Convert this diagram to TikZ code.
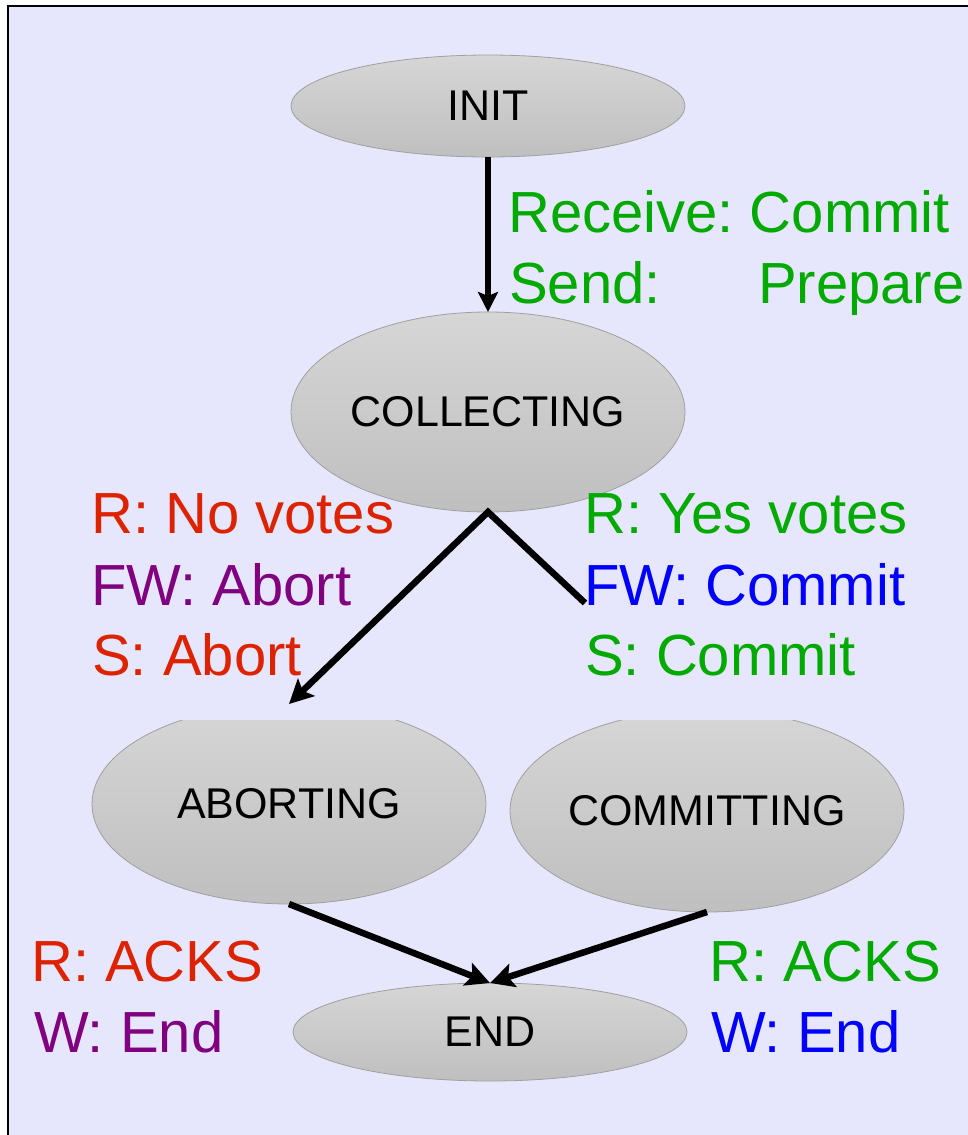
\documentclass[tikz,border=0pt]{standalone}
\usepackage{fontspec}
\setmainfont{Liberation Sans}
\usetikzlibrary{shapes.geometric,arrows.meta}
\definecolor{bg}{HTML}{E6E6FC}
\definecolor{lred}{HTML}{DD2200}
\definecolor{lgreen}{HTML}{00AA00}
\definecolor{lpurple}{HTML}{800080}
\definecolor{lblue}{HTML}{0000FF}
\definecolor{ebord}{HTML}{A0A0A0}
\definecolor{etop}{HTML}{D6D6D6}
\definecolor{ebot}{HTML}{BFBFBF}
\frenchspacing
\begin{document}
\begin{tikzpicture}[x=1pt,y=-1pt,
  state/.style={ellipse,draw=ebord,line width=0.8pt,top color=etop,bottom color=ebot,
    inner sep=0pt,outer sep=0pt,minimum width=394pt,font=\fontsize{43}{43}\selectfont},
  lab/.style={anchor=base west,inner sep=0pt,font=\fontsize{58}{58}\selectfont\frenchspacing},
  conn/.style={line width=6.5pt,-{Stealth[length=24pt,width=24pt,inset=5pt]}}]
\useasboundingbox (0,0) rectangle (968,1135);
\clip (0,0) rectangle (968,1135);
\fill[white] (0,0) rectangle (968,1135);
\draw[fill=bg,line width=1.5pt] (8,6) rectangle (990,1160);

\node[state,minimum height=102pt] (init) at (488,106) {INIT};
\node[state,minimum height=200pt] (coll) at (488,412) {COLLECTING};
\begin{scope}
  \clip (0,720) rectangle (968,1135);
  \node[state,minimum height=200pt] (abort) at (289,804) {ABORTING};
  \node[state,minimum height=202pt] (commit) at (707,811) {COMMITTING};
\end{scope}
\node[state,minimum height=98pt] (end) at (490,1032) {END};

\coordinate (cright) at (585,603);
\draw[line width=5.5pt,-{Stealth[length=20pt,width=20pt,inset=4pt]}] (init.south) -- (coll.north);
\draw[line width=6.5pt,{Stealth[length=24pt,width=24pt,inset=5pt]}-,miter limit=10] (abort.north) -- (coll.south) -- (cright);
\draw[conn] (abort.south) -- (end.north);
\draw[conn] (commit.south) -- (end.north);

\node[lab,text=lgreen] (rc) at (508,232) {Receive: Commit};
\node[lab,text=lgreen] (sp1) at (509,303) {Send:};
\node[lab,text=lgreen] (sp2) at (758,303) {Prepare};

\node[lab,text=lred] (l1) at (91,533) {R: No votes};
\node[lab,text=lpurple] (l2) at (91,605) {FW: Abort};
\node[lab,text=lred] (l3) at (92,675) {S: Abort};

\node[lab,text=lgreen] (r1) at (584,533) {R: Yes votes};
\node[lab,text=lblue] (r2) at (584,605) {FW: Commit};
\node[lab,text=lgreen] (r3) at (585,675) {S: Commit};

\node[lab,text=lred] (a1) at (31,981) {R: ACKS};
\node[lab,text=lpurple] (a2) at (34,1052) {W: End};
\node[lab,text=lgreen] (c1) at (709,981) {R: ACKS};
\node[lab,text=lblue] (c2) at (711,1052) {W: End};
\end{tikzpicture}
\end{document}
